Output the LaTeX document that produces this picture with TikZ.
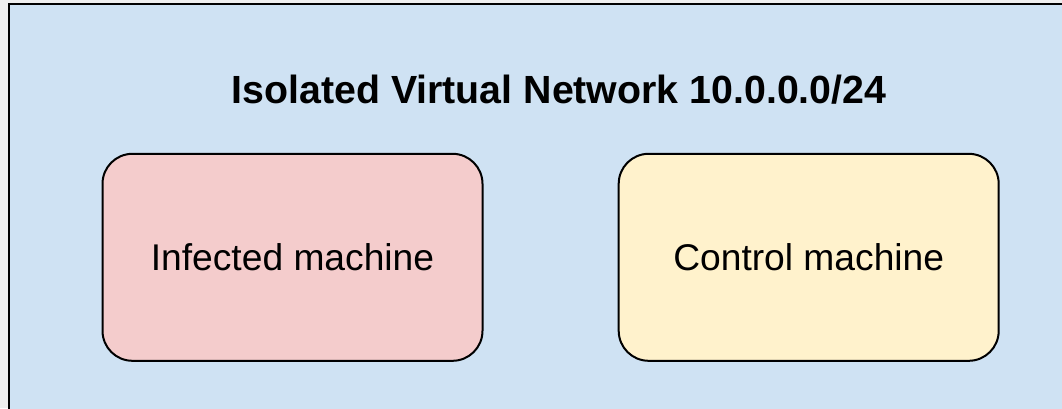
\documentclass[tikz,border=0pt]{standalone}
\usepackage{fontspec}
\setmainfont{Liberation Sans}
\definecolor{netblue}{HTML}{CFE2F3}
\definecolor{infpink}{HTML}{F4CCCC}
\definecolor{ctlyellow}{HTML}{FFF2CC}
\definecolor{outside}{HTML}{EFEFEF}
\begin{document}
\begin{tikzpicture}[x=1pt,y=-1pt,
  machine/.style={draw=black, line width=2pt, rounded corners=30pt,
    minimum width=380pt, minimum height=207pt, inner sep=0pt,
    font=\fontsize{37.2}{40}\selectfont}]
\useasboundingbox (0,0) rectangle (1062,408);
\fill[outside] (0,0) rectangle (1062,408);
\begin{scope}
  \clip (0,0) rectangle (1062,408);
  \draw[line width=2pt, fill=netblue] (9,4) rectangle (1080,430);
\end{scope}
\node[anchor=base, inner sep=0pt, font=\bfseries\fontsize{39.3}{44}\selectfont] (title) at (559,103) {Isolated Virtual Network 10.0.0.0/24};
\node[machine, fill=infpink] (infected) at (292.5,257.3) {Infected machine};
\node[machine, fill=ctlyellow] (control) at (808.7,257.3) {Control machine};
\end{tikzpicture}
\end{document}
